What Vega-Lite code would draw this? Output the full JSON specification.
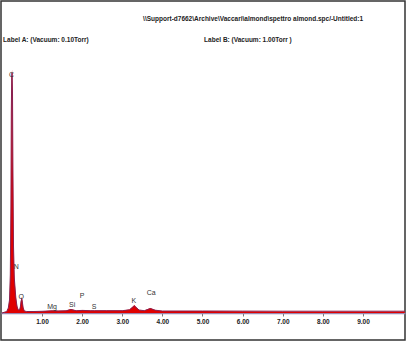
{
  "$schema": "https://vega.github.io/schema/vega-lite/v6.json",
  "width": 404,
  "height": 339,
  "autosize": "none",
  "padding": {"left": 1, "top": 1, "right": 3, "bottom": 11},
  "background": "white",
  "config": {
    "view": {"stroke": "#333333", "strokeWidth": 1.5},
    "font": "Liberation Sans"
  },
  "datasets": {
    "spec": [
      {"E": 0.0, "a": 0, "b": 0},
      {"E": 0.12, "a": 1.5, "b": 1.5},
      {"E": 0.16, "a": 5, "b": 5},
      {"E": 0.19, "a": 14, "b": 13},
      {"E": 0.21, "a": 40, "b": 38},
      {"E": 0.225, "a": 110, "b": 106},
      {"E": 0.235, "a": 205, "b": 200},
      {"E": 0.245, "a": 240, "b": 236},
      {"E": 0.255, "a": 243, "b": 240},
      {"E": 0.265, "a": 225, "b": 220},
      {"E": 0.275, "a": 150, "b": 145},
      {"E": 0.29, "a": 70, "b": 66},
      {"E": 0.31, "a": 38, "b": 35},
      {"E": 0.33, "a": 26, "b": 24},
      {"E": 0.35, "a": 16, "b": 14},
      {"E": 0.38, "a": 7, "b": 6},
      {"E": 0.41, "a": 3, "b": 3},
      {"E": 0.44, "a": 3, "b": 3},
      {"E": 0.46, "a": 7, "b": 6},
      {"E": 0.48, "a": 14, "b": 12},
      {"E": 0.495, "a": 16, "b": 14},
      {"E": 0.51, "a": 13, "b": 11},
      {"E": 0.53, "a": 6, "b": 5},
      {"E": 0.56, "a": 2, "b": 2},
      {"E": 0.62, "a": 1.5, "b": 1.5},
      {"E": 0.8, "a": 1.5, "b": 1.5},
      {"E": 1.0, "a": 1.8, "b": 1.7},
      {"E": 1.25, "a": 2.5, "b": 2.2},
      {"E": 1.4, "a": 2.2, "b": 2},
      {"E": 1.6, "a": 2.5, "b": 2.2},
      {"E": 1.72, "a": 4, "b": 3.5},
      {"E": 1.85, "a": 2.5, "b": 2.3},
      {"E": 2.01, "a": 3, "b": 2.6},
      {"E": 2.2, "a": 2.5, "b": 2.3},
      {"E": 2.31, "a": 2.5, "b": 2.3},
      {"E": 2.6, "a": 2.5, "b": 2.3},
      {"E": 3.0, "a": 2.5, "b": 2.3},
      {"E": 3.18, "a": 3.5, "b": 3.2},
      {"E": 3.3, "a": 8, "b": 7},
      {"E": 3.42, "a": 3, "b": 3},
      {"E": 3.55, "a": 2.5, "b": 2.3},
      {"E": 3.7, "a": 5, "b": 4.5},
      {"E": 3.82, "a": 3, "b": 2.8},
      {"E": 4.0, "a": 2, "b": 2},
      {"E": 5.0, "a": 2, "b": 2},
      {"E": 6.0, "a": 1.8, "b": 1.9},
      {"E": 7.0, "a": 1.5, "b": 1.8},
      {"E": 8.0, "a": 1.5, "b": 1.8},
      {"E": 9.0, "a": 1.5, "b": 1.8},
      {"E": 10.04, "a": 1.5, "b": 1.8}
    ],
    "elements": [
      {"el": "C", "E": 0.24, "y": 238},
      {"el": "N", "E": 0.36, "y": 46},
      {"el": "O", "E": 0.48, "y": 16},
      {"el": "Mg", "E": 1.25, "y": 6},
      {"el": "Si", "E": 1.75, "y": 8},
      {"el": "P", "E": 2.0, "y": 17},
      {"el": "S", "E": 2.3, "y": 6},
      {"el": "K", "E": 3.29, "y": 12},
      {"el": "Ca", "E": 3.72, "y": 20}
    ],
    "notes": [
      {"t": "\\\\Support-d7662\\Archive\\Vaccari\\almond\\spettro almond.spc/-Untitled:1", "E": 3.52, "y": 294},
      {"t": "Label A:  (Vacuum: 0.10Torr)", "E": 0.03, "y": 273},
      {"t": "Label B:  (Vacuum: 1.00Torr )", "E": 5.04, "y": 273}
    ]
  },
  "layer": [
    {
      "data": {"name": "spec"},
      "mark": {"type": "area", "color": "#e00000", "clip": true},
      "encoding": {
        "x": {
          "field": "E", "type": "quantitative",
          "scale": {"domain": [-0.022, 10.047], "nice": false, "zero": false},
          "axis": {
            "orient": "bottom", "offset": -27, "title": null,
            "values": [1, 2, 3, 4, 5, 6, 7, 8, 9], "format": ".2f",
            "labelFontSize": 6.5, "labelFontWeight": "bold", "labelColor": "#222222",
            "tickSize": 3, "tickColor": "#777777", "labelPadding": 2,
            "domainColor": "#9a88b0", "domainWidth": 1.5, "grid": false
          }
        },
        "y": {
          "field": "a", "type": "quantitative",
          "scale": {"domain": [-27, 312], "nice": false, "zero": false},
          "axis": null
        }
      }
    },
    {
      "data": {"name": "spec"},
      "mark": {"type": "line", "color": "#8a2050", "strokeWidth": 1, "clip": true},
      "encoding": {
        "x": {"field": "E", "type": "quantitative"},
        "y": {"field": "b", "type": "quantitative"}
      }
    },
    {
      "data": {"name": "elements"},
      "mark": {"type": "text", "fontSize": 7, "color": "#333333", "baseline": "middle", "align": "center"},
      "encoding": {
        "x": {"field": "E", "type": "quantitative"},
        "y": {"field": "y", "type": "quantitative"},
        "text": {"field": "el"}
      }
    },
    {
      "data": {"name": "notes"},
      "mark": {"type": "text", "fontSize": 6.5, "fontWeight": "bold", "color": "#222222", "baseline": "middle", "align": "left"},
      "encoding": {
        "x": {"field": "E", "type": "quantitative"},
        "y": {"field": "y", "type": "quantitative"},
        "text": {"field": "t"}
      }
    }
  ]
}
